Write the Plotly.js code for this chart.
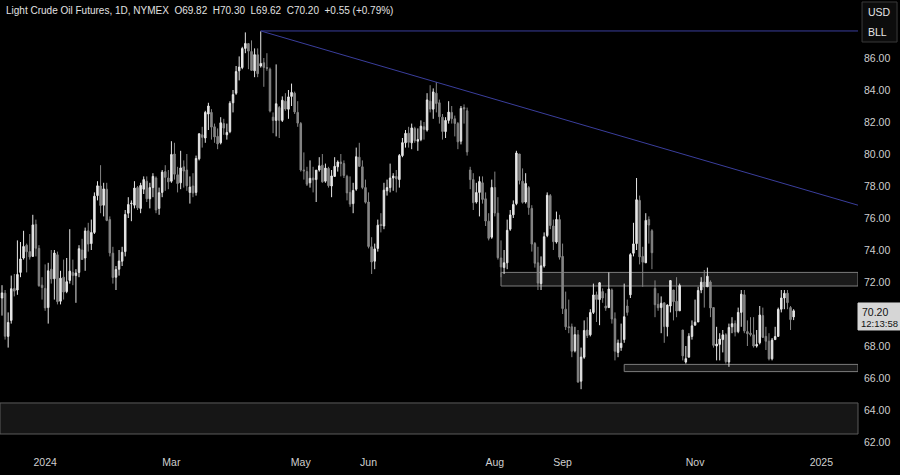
<!DOCTYPE html>
<html>
<head>
<meta charset="utf-8">
<script src="https://cdn.plot.ly/plotly-3.0.1.min.js"></script>
<style>html,body{margin:0;padding:0;background:#000;}#chart{width:900px;height:475px;}</style>
</head>
<body>
<div id="chart"></div>
<script>
// ---- DATA (Light Crude Oil Futures, daily) ----
const dates = [
'2023-12-11','2023-12-12','2023-12-13','2023-12-14','2023-12-15','2023-12-18','2023-12-19','2023-12-20','2023-12-21','2023-12-22','2023-12-26','2023-12-27','2023-12-28','2023-12-29',
'2024-01-02','2024-01-03','2024-01-04','2024-01-05','2024-01-08','2024-01-09','2024-01-10','2024-01-11','2024-01-12','2024-01-16','2024-01-17','2024-01-18','2024-01-19','2024-01-22','2024-01-23','2024-01-24','2024-01-25','2024-01-26','2024-01-29','2024-01-30','2024-01-31',
'2024-02-01','2024-02-02','2024-02-05','2024-02-06','2024-02-07','2024-02-08','2024-02-09','2024-02-12','2024-02-13','2024-02-14','2024-02-15','2024-02-16','2024-02-20','2024-02-21','2024-02-22','2024-02-23','2024-02-26','2024-02-27','2024-02-28','2024-02-29',
'2024-03-01','2024-03-04','2024-03-05','2024-03-06','2024-03-07','2024-03-08','2024-03-11','2024-03-12','2024-03-13','2024-03-14','2024-03-15','2024-03-18','2024-03-19','2024-03-20','2024-03-21','2024-03-22','2024-03-25','2024-03-26','2024-03-27','2024-03-28',
'2024-04-01','2024-04-02','2024-04-03','2024-04-04','2024-04-05','2024-04-08','2024-04-09','2024-04-10','2024-04-11','2024-04-12','2024-04-15','2024-04-16','2024-04-17','2024-04-18','2024-04-19','2024-04-22','2024-04-23','2024-04-24','2024-04-25','2024-04-26','2024-04-29','2024-04-30',
'2024-05-01','2024-05-02','2024-05-03','2024-05-06','2024-05-07','2024-05-08','2024-05-09','2024-05-10','2024-05-13','2024-05-14','2024-05-15','2024-05-16','2024-05-17','2024-05-20','2024-05-21','2024-05-22','2024-05-23','2024-05-24','2024-05-28','2024-05-29','2024-05-30','2024-05-31',
'2024-06-03','2024-06-04','2024-06-05','2024-06-06','2024-06-07','2024-06-10','2024-06-11','2024-06-12','2024-06-13','2024-06-14','2024-06-17','2024-06-18','2024-06-20','2024-06-21','2024-06-24','2024-06-25','2024-06-26','2024-06-27','2024-06-28',
'2024-07-01','2024-07-02','2024-07-03','2024-07-05','2024-07-08','2024-07-09','2024-07-10','2024-07-11','2024-07-12','2024-07-15','2024-07-16','2024-07-17','2024-07-18','2024-07-19','2024-07-22','2024-07-23','2024-07-24','2024-07-25','2024-07-26','2024-07-29','2024-07-30','2024-07-31',
'2024-08-01','2024-08-02','2024-08-05','2024-08-06','2024-08-07','2024-08-08','2024-08-09','2024-08-12','2024-08-13','2024-08-14','2024-08-15','2024-08-16','2024-08-19','2024-08-20','2024-08-21','2024-08-22','2024-08-23','2024-08-26','2024-08-27','2024-08-28','2024-08-29','2024-08-30',
'2024-09-03','2024-09-04','2024-09-05','2024-09-06','2024-09-09','2024-09-10','2024-09-11','2024-09-12','2024-09-13','2024-09-16','2024-09-17','2024-09-18','2024-09-19','2024-09-20','2024-09-23','2024-09-24','2024-09-25','2024-09-26','2024-09-27','2024-09-30',
'2024-10-01','2024-10-02','2024-10-03','2024-10-04','2024-10-07','2024-10-08','2024-10-09','2024-10-10','2024-10-11','2024-10-14','2024-10-15','2024-10-16','2024-10-17','2024-10-18','2024-10-21','2024-10-22','2024-10-23','2024-10-24','2024-10-25','2024-10-28','2024-10-29','2024-10-30','2024-10-31',
'2024-11-01','2024-11-04','2024-11-05','2024-11-06','2024-11-07','2024-11-08','2024-11-11','2024-11-12','2024-11-13','2024-11-14','2024-11-15','2024-11-18','2024-11-19','2024-11-20','2024-11-21','2024-11-22','2024-11-25','2024-11-26','2024-11-27','2024-11-29',
'2024-12-02','2024-12-03','2024-12-04','2024-12-05','2024-12-06','2024-12-09','2024-12-10','2024-12-11','2024-12-12','2024-12-13','2024-12-16','2024-12-17','2024-12-18'
];
const open = [
71.0,71.3,68.6,69.6,71.6,71.5,72.6,73.5,74.3,73.9,73.6,75.6,74.1,71.8,
71.6,70.4,72.8,72.2,73.7,70.8,72.3,71.4,72.1,72.6,72.4,72.6,74.0,73.5,75.2,74.4,75.1,77.4,78.0,76.8,77.8,
75.9,73.8,72.3,72.8,73.3,73.9,76.3,76.9,76.8,77.9,76.6,77.8,78.3,77.2,77.9,78.5,76.6,77.6,78.9,78.5,
78.3,80.0,78.7,78.2,79.2,79.0,77.6,78.0,77.6,79.7,81.2,81.0,82.5,82.6,81.7,81.1,80.7,81.9,81.2,81.4,
83.2,83.8,85.2,85.4,86.6,86.9,86.4,85.2,86.2,85.5,85.7,85.4,85.3,82.3,82.1,82.9,82.1,83.3,82.8,83.6,83.8,82.6,
81.9,79.0,78.9,78.2,78.5,78.4,79.0,79.3,78.3,79.1,78.0,78.6,79.2,79.5,79.4,78.6,77.6,76.9,77.8,79.8,79.2,77.9,
77.0,74.2,73.3,74.1,75.6,75.5,77.7,77.9,78.5,78.6,78.4,79.9,80.7,81.3,80.7,81.6,80.8,80.9,81.7,
81.5,83.3,82.8,83.8,83.2,82.3,81.4,82.1,82.6,82.2,81.9,80.8,82.9,82.7,79.0,78.4,77.0,77.6,78.2,77.2,75.8,74.8,
77.9,76.3,73.5,72.9,73.2,75.3,76.2,76.9,80.0,78.3,77.0,77.9,76.6,74.4,73.2,71.9,73.0,74.9,77.4,75.5,74.5,75.9,
73.6,70.3,69.2,69.2,67.7,68.7,65.8,67.3,69.0,68.7,70.1,71.2,70.9,71.4,70.5,70.4,71.5,69.7,67.6,67.9,
68.4,70.5,71.2,73.8,74.4,77.1,73.6,73.2,75.9,75.2,71.6,70.6,70.4,70.7,69.2,70.5,71.5,70.8,70.2,69.0,67.0,67.3,68.6,
69.3,69.5,71.5,72.0,71.7,72.0,70.4,68.0,68.1,68.4,68.7,67.0,69.2,69.4,68.9,70.1,71.2,68.9,68.8,68.7,
68.0,68.2,69.9,68.6,68.3,67.2,68.4,68.6,70.3,71.0,71.3,70.4,69.82
];
const high = [
71.8,71.5,70.1,72.4,72.5,74.6,74.5,75.2,74.4,75.0,76.2,75.9,74.3,72.3,
73.1,73.2,74.0,74.0,73.9,72.7,73.4,73.5,75.3,73.4,72.8,74.3,74.7,75.4,75.7,75.9,77.6,78.3,79.3,78.2,78.2,
76.1,74.2,73.0,74.0,74.2,76.5,77.3,77.1,78.3,78.0,78.2,78.6,78.6,78.2,78.8,78.6,77.9,79.0,79.3,79.0,
80.8,80.7,79.2,80.2,79.6,80.0,78.6,78.8,79.9,81.3,81.7,82.7,83.2,82.8,81.9,81.6,82.3,82.2,81.9,83.3,
84.0,85.5,86.1,86.7,87.6,86.9,87.1,86.6,86.6,87.67,86.0,86.3,85.4,82.6,85.6,83.0,83.6,83.8,84.0,84.4,83.9,83.3,
82.0,80.1,79.2,79.6,79.2,79.0,79.8,80.0,79.4,79.2,79.0,79.8,79.6,80.0,79.6,78.7,78.6,78.2,80.4,80.7,79.6,78.4,
77.6,74.8,74.4,75.9,76.3,78.2,78.4,79.4,78.8,79.0,80.0,81.0,81.5,81.7,81.9,81.7,81.6,82.1,82.0,
83.8,84.3,84.1,84.5,83.4,82.5,82.3,83.3,83.0,82.4,82.0,83.0,83.1,82.9,79.2,78.8,78.2,78.6,78.6,77.6,76.3,78.4,
78.9,77.3,74.6,74.0,75.9,76.5,77.1,80.2,80.0,79.1,78.8,78.0,76.8,74.5,74.2,73.6,75.1,77.6,77.5,75.9,76.4,76.2,
74.4,71.4,70.9,69.4,69.2,69.0,67.9,69.6,69.8,70.3,71.9,71.4,72.0,71.6,71.3,72.6,71.6,70.1,68.4,69.4,
71.9,70.9,73.8,75.7,78.5,77.4,74.2,76.3,76.1,75.3,72.1,71.3,71.1,70.7,70.6,72.1,71.5,72.3,71.9,69.0,68.0,68.8,69.6,
70.9,71.7,72.3,72.75,72.9,72.1,70.4,69.2,68.8,69.0,68.8,69.4,69.8,69.6,70.4,71.5,71.5,69.6,69.8,69.8,
69.0,70.5,70.4,69.2,68.8,68.5,69.2,70.4,71.5,71.5,71.5,70.5,70.30
];
const low = [
69.9,68.4,67.9,69.4,71.1,71.2,72.3,73.4,72.6,73.4,73.6,73.6,71.7,70.9,
70.2,69.4,71.9,70.9,70.6,70.6,70.9,71.3,71.9,71.8,70.7,72.3,73.4,72.7,73.9,74.0,75.0,77.1,76.3,76.1,75.8,
73.6,71.9,71.5,72.4,73.0,73.6,76.0,75.8,76.6,76.5,76.3,77.5,77.0,76.6,77.3,76.3,76.2,77.3,77.7,77.8,
78.2,78.4,77.6,77.8,77.9,77.7,76.9,77.3,77.4,79.6,80.4,80.7,81.5,80.9,80.7,80.3,80.6,81.2,80.9,81.3,
82.6,83.7,84.6,85.3,86.3,85.3,85.2,84.8,84.8,85.4,84.2,85.2,82.6,81.3,81.1,81.0,82.0,82.7,82.2,83.0,82.5,81.7,
78.9,78.4,78.0,77.9,77.6,77.0,78.9,78.2,78.2,77.9,77.3,78.6,78.9,78.6,78.5,77.1,76.7,76.3,77.7,79.2,77.8,76.9,
74.1,72.5,72.8,73.9,75.1,75.3,77.4,77.6,77.7,77.6,77.9,79.8,80.4,80.4,80.3,80.7,80.2,80.8,80.9,
81.4,82.6,82.2,82.6,81.9,80.9,81.0,81.9,81.9,81.1,80.3,80.6,81.9,79.9,77.8,76.5,76.9,76.1,76.9,75.5,74.6,74.7,
76.1,73.4,72.3,72.5,72.8,75.2,76.0,76.8,78.1,76.9,76.9,76.2,73.9,72.9,71.5,71.5,72.9,74.8,75.3,74.0,74.4,73.4,
70.0,69.0,68.8,67.3,67.6,65.7,65.3,67.2,68.5,68.6,70.0,69.5,69.3,70.7,70.2,70.4,69.4,67.1,67.3,67.7,
68.2,69.9,71.0,73.6,74.0,73.1,71.7,73.2,74.4,72.8,69.8,70.2,68.8,68.2,68.6,70.1,69.6,69.8,70.2,67.1,66.9,67.3,68.4,
69.3,69.5,71.3,70.4,71.7,69.8,67.9,67.1,67.1,67.6,66.9,66.7,68.8,68.6,68.8,69.2,68.8,68.0,68.6,67.9,
67.9,68.1,68.5,67.75,67.1,67.1,68.4,68.6,70.1,70.3,70.3,69.0,69.62
];
const close = [
71.32,68.61,69.47,71.58,71.43,72.47,73.44,74.22,73.89,73.56,75.57,74.11,71.77,71.65,
70.38,72.70,72.19,73.81,70.77,72.24,71.37,72.02,72.68,72.40,72.56,74.08,73.41,75.19,74.37,75.09,77.36,78.01,76.78,77.82,75.85,
73.82,72.28,72.78,73.31,73.86,76.22,76.84,76.92,77.87,76.64,78.03,78.40,77.20,77.90,78.60,76.50,77.58,78.87,78.54,78.26,
79.97,78.74,78.15,79.13,78.93,78.01,77.93,77.56,79.72,81.26,81.04,82.60,83.00,81.68,81.07,80.63,81.95,81.62,81.35,83.17,
83.71,85.15,85.43,86.59,86.91,86.43,85.23,86.21,85.02,85.66,85.41,85.36,82.69,82.10,83.14,82.10,83.36,82.81,83.57,83.85,82.63,81.93,
79.00,78.95,78.11,78.48,78.38,78.99,79.26,78.26,79.12,78.02,78.63,79.23,79.50,79.40,78.66,77.57,76.87,77.72,79.83,79.23,77.91,76.99,
74.22,73.25,74.07,75.55,75.53,77.74,77.90,78.50,78.62,78.45,79.90,80.71,81.29,80.73,81.63,80.83,80.90,81.74,81.54,
83.38,82.81,83.88,83.16,82.33,81.41,82.10,82.62,82.21,81.91,80.76,82.85,82.82,80.13,78.40,76.96,77.59,78.28,77.16,75.81,74.73,77.91,
76.31,73.52,72.94,73.20,75.23,76.19,76.84,80.06,78.35,76.98,78.16,76.65,74.37,73.17,71.93,73.01,74.83,77.42,75.53,74.52,75.91,73.55,
70.34,69.20,69.15,67.67,68.71,65.75,67.31,68.97,68.65,70.09,71.19,70.91,71.95,71.00,70.37,71.56,69.69,67.67,68.18,68.17,
69.83,70.10,73.71,74.38,77.14,73.57,73.24,75.85,75.56,73.83,70.58,70.39,70.67,69.22,70.56,72.09,70.77,70.19,71.78,67.38,67.21,68.61,69.26,
69.49,71.47,71.99,71.69,72.36,70.38,68.04,68.12,68.43,68.70,67.02,69.16,69.39,68.87,70.10,71.24,68.94,68.77,68.72,68.00,
68.10,69.94,68.54,68.30,67.20,68.37,68.59,70.29,71.00,71.29,70.71,69.65,70.20
];
const holidays = ['2023-12-25','2024-01-01','2024-01-15','2024-02-19','2024-03-29','2024-05-27','2024-06-19','2024-07-04','2024-09-02','2024-11-28','2024-12-25','2025-01-01'];
const xTickVals = ['2024-01-02','2024-03-01','2024-05-01','2024-06-03','2024-08-01','2024-09-03','2024-11-01','2025-01-02'];
const xTickText = ['2024','Mar','May','Jun','Aug','Sep','Nov','2025'];
// 70.00 sits under the last-price label in the reference, so it is not drawn
const yTickVals = [62,64,66,68,72,74,76,78,80,82,84,86];
const header = 'Light Crude Oil Futures, 1D, NYMEX&nbsp;&nbsp;O69.82&nbsp;&nbsp;H70.30&nbsp;&nbsp;L69.62&nbsp;&nbsp;C70.20&nbsp;&nbsp;+0.55 (+0.79%)';
const countdown = '12:13:58';
// drawings (price levels)
const peakDate = '2024-04-12', peakPrice = 87.69;
const trendEndPrice = 76.8;
const resistanceZone = {from: '2024-08-05', lo: 71.75, hi: 72.6};
const supportZone = {from: '2024-10-01', lo: 66.4, hi: 66.85};
const lowerZone = {lo: 62.5, hi: 64.44};

const xLeft = '2023-12-08 08:24';
const xRight = '2025-01-17 21:36';

const lastClose = close[close.length - 1];
const font = 'Liberation Sans, Arial, sans-serif';
const lineBlue = '#3a3e9c';

const trace = {
  type: 'candlestick',
  x: dates, open: open, high: high, low: low, close: close,
  increasing: {line: {color: '#e6e6e6', width: 1}, fillcolor: '#e6e6e6'},
  decreasing: {line: {color: '#858585', width: 1}, fillcolor: '#858585'},
  whiskerwidth: 0,
  hoverinfo: 'skip'
};

const layout = {
  width: 900, height: 475,
  paper_bgcolor: '#000000', plot_bgcolor: '#000000',
  margin: {l: 0, r: 42, t: 0, b: 25},
  showlegend: false,
  font: {family: font, color: '#cfcfcf', size: 10.5},
  xaxis: {
    type: 'date', range: [xLeft, xRight],
    rangebreaks: [{bounds: ['sat', 'mon']}, {values: holidays}],
    rangeslider: {visible: false},
    showgrid: false, zeroline: false, showline: false, ticks: '',
    tickmode: 'array', tickvals: xTickVals, ticktext: xTickText,
    tickfont: {family: font, size: 10.5, color: '#cfcfcf'},
    ticklabelstandoff: 4,
    fixedrange: true
  },
  yaxis: {
    side: 'right', range: [61.5, 89.625],
    showgrid: false, zeroline: false, showline: false, ticks: '',
    tickmode: 'array', tickvals: yTickVals, ticktext: yTickVals.map(v => v.toFixed(2)),
    tickfont: {family: font, size: 10.5, color: '#cfcfcf'},
    ticklabelstandoff: 5,
    fixedrange: true
  },
  shapes: [
    {type: 'rect', xref: 'paper', yref: 'y', x0: 0, x1: 1, y0: lowerZone.lo, y1: lowerZone.hi,
     fillcolor: '#161616', line: {color: '#5a5a5a', width: 1}, layer: 'below'},
    {type: 'rect', xref: 'x', yref: 'y', x0: resistanceZone.from, x1: xRight, y0: resistanceZone.lo, y1: resistanceZone.hi,
     fillcolor: '#1a1a1a', line: {color: '#7c7c7c', width: 1}, layer: 'below'},
    {type: 'rect', xref: 'x', yref: 'y', x0: supportZone.from, x1: xRight, y0: supportZone.lo, y1: supportZone.hi,
     fillcolor: '#1a1a1a', line: {color: '#7c7c7c', width: 1}, layer: 'below'},
    {type: 'line', xref: 'x', yref: 'y', x0: peakDate, x1: xRight, y0: peakPrice, y1: peakPrice,
     line: {color: lineBlue, width: 1}},
    {type: 'line', xref: 'x', yref: 'y', x0: peakDate, x1: xRight, y0: peakPrice, y1: trendEndPrice,
     line: {color: lineBlue, width: 1}},
    // currency box
    {type: 'rect', xref: 'paper', yref: 'paper', x0: 1.0047, x1: 1.0455, y0: 0.9067, y1: 0.9956,
     fillcolor: '#0c0c0c', line: {color: '#3a3a3a', width: 1}},
    // last price label box
    {type: 'rect', xref: 'paper', yref: 'paper', x0: 1.0, x1: 1.06, y0: 0.2667, y1: 0.3267,
     fillcolor: '#d6d6d6', line: {color: '#d6d6d6', width: 1}}
  ],
  annotations: [
    {xref: 'paper', yref: 'paper', x: 0, xshift: 4, y: 0.9756, xanchor: 'left', yanchor: 'middle',
     text: header, showarrow: false, font: {family: font, size: 10, color: '#e2e2e2'}},
    {xref: 'paper', yref: 'paper', x: 1.0047, xshift: 4, y: 0.973, xanchor: 'left', yanchor: 'middle',
     text: 'USD', showarrow: false, font: {family: font, size: 10.5, color: '#e6e6e6'}},
    {xref: 'paper', yref: 'paper', x: 1.0047, xshift: 4, y: 0.929, xanchor: 'left', yanchor: 'middle',
     text: 'BLL', showarrow: false, font: {family: font, size: 10.5, color: '#e6e6e6'}},
    {xref: 'paper', yref: 'y', x: 1.0, xshift: 2, y: lastClose, yshift: -1, xanchor: 'left', yanchor: 'middle',
     text: lastClose.toFixed(2), showarrow: false, font: {family: font, size: 10.5, color: '#111111'}},
    {xref: 'paper', yref: 'y', x: 1.0, xshift: 1, y: lastClose, yshift: -13, xanchor: 'left', yanchor: 'middle',
     text: countdown, showarrow: false, font: {family: font, size: 9.5, color: '#111111'}}
  ]
};

Plotly.newPlot('chart', [trace], layout, {displayModeBar: false, staticPlot: true});
</script>
</body>
</html>
